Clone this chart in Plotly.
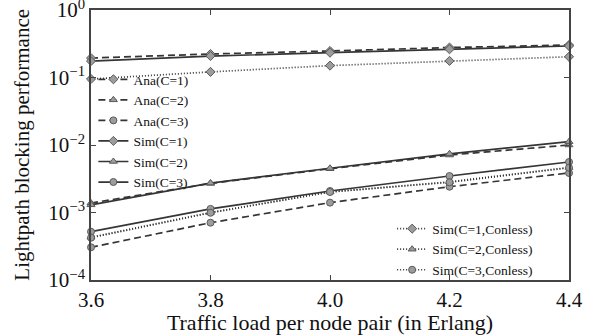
import plotly.graph_objects as go

# Traffic load per node pair (Erlang)
load = [3.6, 3.8, 4.0, 4.2, 4.4]

# Analytical blocking probability
ana_c1 = [0.194, 0.223, 0.247, 0.278, 0.303]
ana_c2 = [1.38e-3, 2.70e-3, 4.45e-3, 7.1e-3, 1.0e-2]
ana_c3 = [3.05e-4, 7.06e-4, 1.40e-3, 2.41e-3, 3.85e-3]

# Simulated blocking probability
sim_c1 = [0.175, 0.208, 0.233, 0.262, 0.293]
sim_c2 = [1.30e-3, 2.73e-3, 4.52e-3, 7.4e-3, 1.12e-2]
sim_c3 = [5.2e-4, 1.13e-3, 2.08e-3, 3.47e-3, 5.6e-3]

# Simulated, contention-less nodes
conless_c1 = [0.095, 0.121, 0.150, 0.176, 0.203]
conless_c2 = [4.3e-4, 1.0e-3, 2.02e-3, 2.85e-3, 4.65e-3]
conless_c3 = [4.23e-4, 9.9e-4, 2.01e-3, 2.80e-3, 4.6e-3]

y_tick_vals = [1e-4, 1e-3, 1e-2, 1e-1, 1]
y_tick_text = ["10<sup>−4</sup>", "10<sup>−3</sup>", "10<sup>−2</sup>",
               "10<sup>−1</sup>", "10<sup>0</sup>"]
x_tick_vals = [3.6, 3.8, 4.0, 4.2, 4.4]
x_tick_text = ["3.6", "3.8", "4.0", "4.2", "4.4"]

LINE = "#353535"
FILL = "#9c9c9c"
EDGE = "#5a5a5a"
FONT = "Liberation Serif, Times New Roman, serif"

series = [
    ("Ana(C=1)", ana_c1, "dash", "diamond", "legend"),
    ("Ana(C=2)", ana_c2, "dash", "triangle-up", "legend"),
    ("Ana(C=3)", ana_c3, "dash", "circle", "legend"),
    ("Sim(C=1)", sim_c1, "solid", "diamond", "legend"),
    ("Sim(C=2)", sim_c2, "solid", "triangle-up", "legend"),
    ("Sim(C=3)", sim_c3, "solid", "circle", "legend"),
    ("Sim(C=1,Conless)", conless_c1, "dot", "diamond", "legend2"),
    ("Sim(C=2,Conless)", conless_c2, "dot", "triangle-up", "legend2"),
    ("Sim(C=3,Conless)", conless_c3, "dot", "circle", "legend2"),
]

dash_map = {"dash": "7px,4px", "solid": "solid", "dot": "1px,2px"}

fig = go.Figure()
for name, vals, dash, sym, leg in series:
    fig.add_trace(go.Scatter(
        x=load, y=vals, name=name, mode="lines+markers",
        line=dict(color=LINE, width=1.7, dash=dash_map[dash]),
        marker=dict(symbol=sym, size=7, color=FILL,
                    line=dict(color=EDGE, width=1)),
        legend=leg, cliponaxis=False,
    ))

axis_common = dict(
    showline=True, linecolor="#444444", linewidth=1.6, mirror="ticks",
    ticks="inside", ticklen=5, tickcolor="#444444", tickwidth=1.2,
    showgrid=False, zeroline=False,
    tickfont=dict(family=FONT, size=21, color="#111111"),
)

fig.update_layout(
    width=590, height=335,
    margin=dict(l=91, r=21, t=10, b=55),
    paper_bgcolor="white", plot_bgcolor="white",
    font=dict(family=FONT, color="#111111"),
    xaxis=dict(
        range=[3.6, 4.4], tickvals=x_tick_vals, ticktext=x_tick_text,
        title=dict(text="Traffic load per node pair (in Erlang)",
                   font=dict(family=FONT, size=22), standoff=3),
        automargin=False,
        **axis_common,
    ),
    yaxis=dict(
        type="log", range=[-4, 0], tickvals=y_tick_vals, ticktext=y_tick_text,
        ticklabeloverflow="allow",
        automargin=False,
        **axis_common,
    ),
    annotations=[dict(
        text="Lightpath blocking performance", textangle=-90,
        xref="paper", yref="paper", x=-0.145, y=0.5,
        xanchor="center", yanchor="middle", showarrow=False,
        font=dict(family=FONT, size=21, color="#111111"),
    )],
    legend=dict(
        x=0.005, y=0.80, xanchor="left", yanchor="top",
        bgcolor="rgba(0,0,0,0)", borderwidth=0,
        font=dict(family=FONT, size=13.5), tracegroupgap=0,
    ),
    legend2=dict(
        x=0.63, y=-0.02, xanchor="left", yanchor="bottom",
        bgcolor="rgba(0,0,0,0)", borderwidth=0,
        font=dict(family=FONT, size=13.5), tracegroupgap=0,
    ),
    showlegend=True,
)

fig.write_html("out.html")
